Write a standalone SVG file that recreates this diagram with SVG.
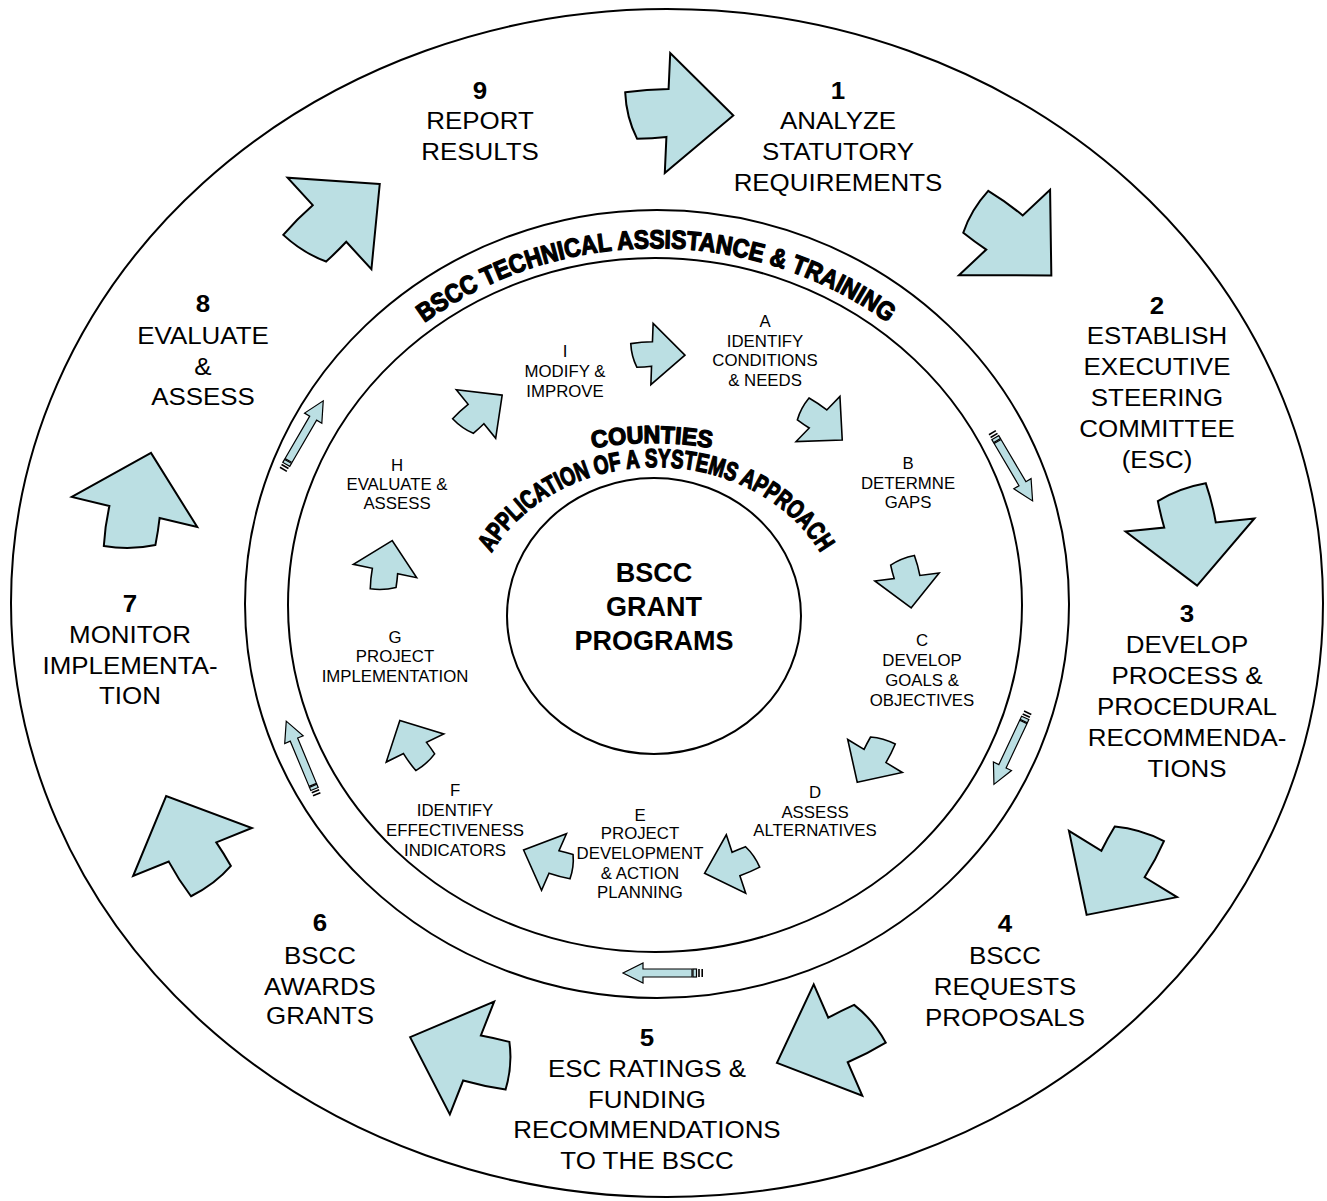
<svg xmlns="http://www.w3.org/2000/svg" xmlns:xlink="http://www.w3.org/1999/xlink" width="1327" height="1201" viewBox="0 0 1327 1201">
<style>
.ring{fill:none;stroke:#000;stroke-width:2}
.ob{fill:#BBDFE3;stroke:#000;stroke-width:2}
.ib{fill:#BBDFE3;stroke:#000;stroke-width:1.6}
.sa{fill:#BBDFE3;stroke:#000;stroke-width:1.2}
.ot{font-family:"Liberation Sans",Arial,sans-serif;font-size:24px;text-anchor:middle;fill:#000}
.it{font-family:"Liberation Sans",Arial,sans-serif;font-size:16px;text-anchor:middle;fill:#000}
.ct{font-family:"Liberation Sans",Arial,sans-serif;font-size:27px;font-weight:bold;text-anchor:middle;fill:#000}
.b{font-weight:bold}
.wa{font-family:"Liberation Sans",Arial,sans-serif;font-weight:bold;fill:#000;stroke:#000;stroke-width:1.3;stroke-linejoin:round}
</style>
<defs>
<path id="big" vector-effect="non-scaling-stroke" d="M61,0 L0,-60 L0,-24 Q-20,-23 -40,-19 Q-38,6 -27,27 Q-13,26 0,24 L0,60 Z"/>
<g id="small">
<rect x="0" y="-4" width="1.6" height="8" fill="#000"/>
<rect x="3.2" y="-4" width="1.6" height="8" fill="#000"/>
<rect x="6.5" y="-4" width="3.5" height="8" class="sa"/>
<path class="sa" d="M11,-4 L60,-4 L60,-10 L80,0 L60,10 L60,4 L11,4 Z"/>
</g>
<path id="ringPath" d="M278,604 A378 356 0 0 1 1034,604"/>
<path id="appPath" d="M471,625 A185 158 0 0 1 841,625"/>
<path id="cntPath" d="M402,625 A250 182 0 0 1 902,625"/>
</defs>

<g id="circles">
<ellipse class="ring" cx="667" cy="603" rx="656" ry="594"/>
<ellipse class="ring" cx="657" cy="604" rx="412" ry="394"/>
<ellipse class="ring" cx="655" cy="605" rx="367" ry="347"/>
<ellipse class="ring" cx="654" cy="616" rx="147" ry="138"/>
</g>

<g id="connectors">
<use href="#big" class="ob" transform="translate(667.5,113) scale(1.08,1) rotate(2.4)"/>
<use href="#big" class="ob" transform="translate(1004.5,232.5) scale(1.08,1) rotate(44.7)"/>
<use href="#big" class="ob" transform="translate(1190,525) scale(1.08,1) rotate(83.8)"/>
<use href="#big" class="ob" transform="translate(1123,864) scale(1.08,1) rotate(123.5)"/>
<use href="#big" class="ob" transform="translate(838,1040) scale(1.08,1) rotate(158)"/>
<use href="#big" class="ob" transform="translate(472,1058) scale(1.08,1) rotate(200)"/>
<use href="#big" class="ob" transform="translate(192.5,852) scale(1.08,1) rotate(246.4)"/>
<use href="#big" class="ob" transform="translate(134.5,512) scale(1.08,1) rotate(-75.5)"/>
<use href="#big" class="ob" transform="translate(329.5,223.5) scale(1.08,1) rotate(-40.3)"/>

<use href="#big" class="ib" transform="translate(652,354) scale(0.54,0.51) rotate(2)"/>
<use href="#big" class="ib" transform="translate(818,419) scale(0.54,0.51) rotate(42.6)"/>
<use href="#big" class="ib" transform="translate(907,577) scale(0.54,0.51) rotate(82.6)"/>
<use href="#big" class="ib" transform="translate(875,756) scale(0.54,0.51) rotate(122.6)"/>
<use href="#big" class="ib" transform="translate(736,864) scale(0.54,0.51) rotate(162.6)"/>
<use href="#big" class="ib" transform="translate(554,862) scale(0.54,0.51) rotate(202.6)"/>
<use href="#big" class="ib" transform="translate(415,748) scale(0.54,0.51) rotate(242.6)"/>
<use href="#big" class="ib" transform="translate(385,571) scale(0.54,0.51) rotate(282.6)"/>
<use href="#big" class="ib" transform="translate(476,414) scale(0.54,0.51) rotate(322.6)"/>

<use href="#small" transform="translate(283,470) rotate(-59.8)"/>
<use href="#small" transform="translate(992,432) rotate(59.5)"/>
<use href="#small" transform="translate(1028,712) rotate(115.2)"/>
<use href="#small" transform="translate(703,973) rotate(180)"/>
<use href="#small" transform="translate(317,795) rotate(247.4)"/>
</g>

<g id="ring-label">
<text class="wa" font-size="26"><textPath href="#ringPath" startOffset="50%" text-anchor="middle" textLength="495" lengthAdjust="spacingAndGlyphs">BSCC TECHNICAL ASSISTANCE &amp; TRAINING</textPath></text>
</g>
<g id="counties-label">
<text class="wa" font-size="24"><textPath href="#cntPath" startOffset="50%" text-anchor="middle" textLength="120" lengthAdjust="spacingAndGlyphs">COUNTIES</textPath></text>
<text class="wa" font-size="26"><textPath href="#appPath" startOffset="50%" text-anchor="middle" textLength="388" lengthAdjust="spacingAndGlyphs">APPLICATION OF A SYSTEMS APPROACH</textPath></text>
</g>

<g id="center">
<text class="ct" x="654" y="582">BSCC</text>
<text class="ct" x="654" y="616">GRANT</text>
<text class="ct" x="654" y="650">PROGRAMS</text>
</g>

<g id="step9" transform="translate(480,0) scale(1.08,1)">
<text class="ot b" x="0" y="99">9</text>
<text class="ot" x="0" y="129">REPORT</text>
<text class="ot" x="0" y="160">RESULTS</text>
</g>
<g id="step1" transform="translate(838,0) scale(1.08,1)">
<text class="ot b" x="0" y="99">1</text>
<text class="ot" x="0" y="129">ANALYZE</text>
<text class="ot" x="0" y="160">STATUTORY</text>
<text class="ot" x="0" y="191">REQUIREMENTS</text>
</g>
<g id="step2" transform="translate(1157,0) scale(1.08,1)">
<text class="ot b" x="0" y="314">2</text>
<text class="ot" x="0" y="344">ESTABLISH</text>
<text class="ot" x="0" y="375">EXECUTIVE</text>
<text class="ot" x="0" y="406">STEERING</text>
<text class="ot" x="0" y="437">COMMITTEE</text>
<text class="ot" x="0" y="468">(ESC)</text>
</g>
<g id="step3" transform="translate(1187,0) scale(1.08,1)">
<text class="ot b" x="0" y="622">3</text>
<text class="ot" x="0" y="653">DEVELOP</text>
<text class="ot" x="0" y="684">PROCESS &amp;</text>
<text class="ot" x="0" y="715">PROCEDURAL</text>
<text class="ot" x="0" y="746">RECOMMENDA-</text>
<text class="ot" x="0" y="777">TIONS</text>
</g>
<g id="step4" transform="translate(1005,0) scale(1.08,1)">
<text class="ot b" x="0" y="932">4</text>
<text class="ot" x="0" y="964">BSCC</text>
<text class="ot" x="0" y="995">REQUESTS</text>
<text class="ot" x="0" y="1026">PROPOSALS</text>
</g>
<g id="step5" transform="translate(647,0) scale(1.08,1)">
<text class="ot b" x="0" y="1046">5</text>
<text class="ot" x="0" y="1077">ESC RATINGS &amp;</text>
<text class="ot" x="0" y="1108">FUNDING</text>
<text class="ot" x="0" y="1138">RECOMMENDATIONS</text>
<text class="ot" x="0" y="1169">TO THE BSCC</text>
</g>
<g id="step6" transform="translate(320,0) scale(1.08,1)">
<text class="ot b" x="0" y="931">6</text>
<text class="ot" x="0" y="964">BSCC</text>
<text class="ot" x="0" y="995">AWARDS</text>
<text class="ot" x="0" y="1024">GRANTS</text>
</g>
<g id="step7" transform="translate(130,0) scale(1.08,1)">
<text class="ot b" x="0" y="612">7</text>
<text class="ot" x="0" y="643">MONITOR</text>
<text class="ot" x="0" y="674">IMPLEMENTA-</text>
<text class="ot" x="0" y="704">TION</text>
</g>
<g id="step8" transform="translate(203,0) scale(1.08,1)">
<text class="ot b" x="0" y="312">8</text>
<text class="ot" x="0" y="344">EVALUATE</text>
<text class="ot" x="0" y="375">&amp;</text>
<text class="ot" x="0" y="405">ASSESS</text>
</g>

<g id="stepA" transform="translate(765,0) scale(1.05,1)">
<text class="it" x="0" y="327">A</text>
<text class="it" x="0" y="347">IDENTIFY</text>
<text class="it" x="0" y="366">CONDITIONS</text>
<text class="it" x="0" y="386">&amp; NEEDS</text>
</g>
<g id="stepB" transform="translate(908,0) scale(1.05,1)">
<text class="it" x="0" y="469">B</text>
<text class="it" x="0" y="489">DETERMNE</text>
<text class="it" x="0" y="508">GAPS</text>
</g>
<g id="stepC" transform="translate(922,0) scale(1.05,1)">
<text class="it" x="0" y="646">C</text>
<text class="it" x="0" y="666">DEVELOP</text>
<text class="it" x="0" y="686">GOALS &amp;</text>
<text class="it" x="0" y="706">OBJECTIVES</text>
</g>
<g id="stepD" transform="translate(815,0) scale(1.05,1)">
<text class="it" x="0" y="798">D</text>
<text class="it" x="0" y="818">ASSESS</text>
<text class="it" x="0" y="836">ALTERNATIVES</text>
</g>
<g id="stepE" transform="translate(640,0) scale(1.05,1)">
<text class="it" x="0" y="821">E</text>
<text class="it" x="0" y="839">PROJECT</text>
<text class="it" x="0" y="859">DEVELOPMENT</text>
<text class="it" x="0" y="879">&amp; ACTION</text>
<text class="it" x="0" y="898">PLANNING</text>
</g>
<g id="stepF" transform="translate(455,0) scale(1.05,1)">
<text class="it" x="0" y="796">F</text>
<text class="it" x="0" y="816">IDENTIFY</text>
<text class="it" x="0" y="836">EFFECTIVENESS</text>
<text class="it" x="0" y="856">INDICATORS</text>
</g>
<g id="stepG" transform="translate(395,0) scale(1.05,1)">
<text class="it" x="0" y="643">G</text>
<text class="it" x="0" y="662">PROJECT</text>
<text class="it" x="0" y="682">IMPLEMENTATION</text>
</g>
<g id="stepH" transform="translate(397,0) scale(1.05,1)">
<text class="it" x="0" y="471">H</text>
<text class="it" x="0" y="490">EVALUATE &amp;</text>
<text class="it" x="0" y="509">ASSESS</text>
</g>
<g id="stepI" transform="translate(565,0) scale(1.05,1)">
<text class="it" x="0" y="357">I</text>
<text class="it" x="0" y="377">MODIFY &amp;</text>
<text class="it" x="0" y="397">IMPROVE</text>
</g>
</svg>
